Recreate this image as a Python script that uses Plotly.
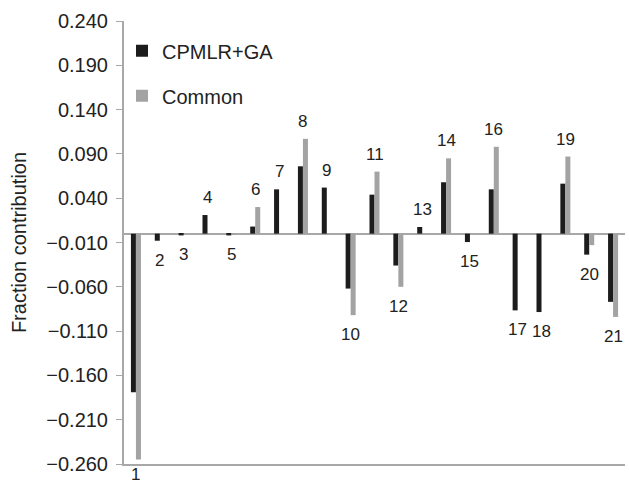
import plotly.graph_objects as go

categories = [str(i) for i in range(1, 22)]
cpmlr_ga = [-0.179, -0.008, -0.002, 0.021, -0.002, 0.008, 0.050, 0.076, 0.052, -0.062,
            0.044, -0.036, 0.0075, 0.058, -0.0095, 0.050, -0.0866, -0.0885, 0.0564, -0.0237, -0.077]
common = [-0.255, 0.0, 0.0, 0.0, -0.001, 0.030, 0.0, 0.107, 0.0, -0.092,
          0.070, -0.060, 0.0, 0.085, 0.0, 0.098, 0.0, 0.0, 0.087, -0.013, -0.094]
tick_vals = [0.240, 0.190, 0.140, 0.090, 0.040, -0.010, -0.060, -0.110, -0.160, -0.210, -0.260]

FONT = "Liberation Sans, Arial, sans-serif"

fig = go.Figure()
fig.add_trace(go.Bar(x=categories, y=cpmlr_ga, name="CPMLR+GA",
                     marker=dict(color="#1c1c1c", line=dict(width=0)),
                     legendgroup="a"))
fig.add_trace(go.Bar(x=categories, y=common, name="Common",
                     marker=dict(color="#a3a3a3", line=dict(width=0)),
                     legendgroup="b"))

annotations = []
for i, (c, a, b) in enumerate(zip(categories, cpmlr_ga, common)):
    if a + b >= 0:
        annotations.append(dict(x=i, y=max(a, b, 0), text=c, showarrow=False,
                                xref="x", yref="y",
                                yanchor="bottom", yshift=6,
                                font=dict(family=FONT, size=17, color="#222")))
    else:
        lo = min(a, b, 0)
        annotations.append(dict(x=i, y=lo, text=c, showarrow=False,
                                xref="x", yref="y",
                                yanchor="top", yshift=-3 if lo < -0.2 else -8,
                                font=dict(family=FONT, size=17, color="#222")))

fig.update_layout(
    width=629, height=484,
    margin=dict(l=124, r=4, t=21, b=20, autoexpand=False),
    paper_bgcolor="white", plot_bgcolor="white",
    barmode="group", bargap=0.58, bargroupgap=0,
    font=dict(family=FONT, size=20, color="#222"),
    showlegend=True,
    legend=dict(x=-0.004, y=0.977, xanchor="left", yanchor="top",
                bgcolor="rgba(0,0,0,0)", tracegroupgap=16,
                font=dict(family=FONT, size=20, color="#222")),
    annotations=annotations,
    xaxis=dict(showticklabels=False, ticks="", showgrid=False, zeroline=False,
               showline=True, linecolor="#a8a8a8", linewidth=2,
               range=[-0.5, 20.5], automargin=False),
    yaxis=dict(range=[-0.26, 0.24], tickvals=tick_vals, tickformat=".3f",
               showgrid=False, zeroline=True, zerolinecolor="#a8a8a8", zerolinewidth=2,
               showline=True, linecolor="#a8a8a8", linewidth=2,
               ticks="outside", ticklen=6, tickcolor="#a8a8a8", tickwidth=1,
               ticklabelstandoff=4, automargin=False,
               title=dict(text="Fraction contribution", standoff=14,
                          font=dict(family=FONT, size=20, color="#222")),
               tickfont=dict(family=FONT, size=20, color="#222")),
)

fig.write_html("out.html",
               config={"displayModeBar": False},
               post_script="document.body.style.margin='0';document.body.style.overflow='hidden';")
